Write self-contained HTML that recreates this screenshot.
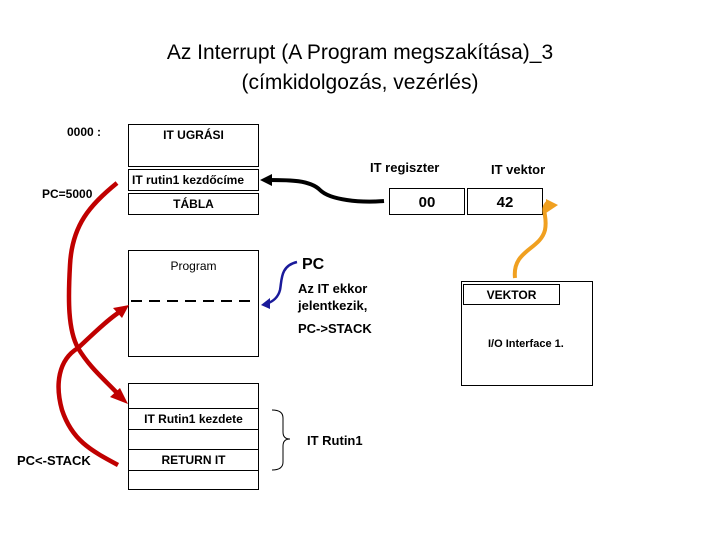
<!DOCTYPE html>
<html><head><meta charset="utf-8"><style>
body{margin:0;width:720px;height:540px;background:#fff;position:relative;font-family:"Liberation Sans",sans-serif;overflow:hidden}
.t{position:absolute;white-space:nowrap;color:#000}
.b{position:absolute;border:1px solid #000;box-sizing:border-box;background:#fff;text-align:center;font-size:12px;font-weight:bold}
</style></head><body>
<div class="t" style="left:0;width:720px;text-align:center;top:38px;font-size:21px;line-height:30px">Az Interrupt (A Program megszakítása)_3<br>(címkidolgozás, vezérlés)</div>
<div class="b" style="left:128px;top:124px;width:131px;height:43px;padding-top:3px">IT UGRÁSI</div>
<div class="b" style="left:128px;top:169px;width:131px;height:22px;text-align:left;padding:3px 0 0 3px">IT rutin1 kezdőcíme</div>
<div class="b" style="left:128px;top:193px;width:131px;height:22px;padding-top:3px">TÁBLA</div>
<div class="b" style="left:128px;top:250px;width:131px;height:107px;padding-top:8px;font-weight:normal;font-size:12px">Program</div>
<div class="b" style="left:128px;top:383px;width:131px;height:107px"></div>
<div class="b" style="left:128px;top:408px;width:131px;height:22px;padding-top:3px">IT Rutin1 kezdete</div>
<div class="b" style="left:128px;top:449px;width:131px;height:22px;padding-top:3px">RETURN IT</div>
<div class="b" style="left:389px;top:188px;width:76px;height:27px;font-size:15px;padding-top:5px">00</div>
<div class="b" style="left:467px;top:188px;width:76px;height:27px;font-size:15px;padding-top:5px">42</div>
<div class="b" style="left:461px;top:281px;width:132px;height:105px"></div>
<div class="b" style="left:463px;top:284px;width:97px;height:21px;padding-top:3px">VEKTOR</div>
<div class="t" style="left:488px;top:338px;font-size:11px;font-weight:bold">I/O Interface 1.</div>
<div class="t" style="left:67px;top:125px;font-size:12px;font-weight:bold">0000 :</div>
<div class="t" style="left:42px;top:187px;font-size:12px;font-weight:bold">PC=5000</div>
<div class="t" style="left:17px;top:453px;font-size:13px;font-weight:bold">PC&lt;-STACK</div>
<div class="t" style="left:370px;top:160px;font-size:13px;font-weight:bold">IT regiszter</div>
<div class="t" style="left:491px;top:162px;font-size:13px;font-weight:bold">IT vektor</div>
<div class="t" style="left:302px;top:256px;font-size:16px;font-weight:bold">PC</div>
<div class="t" style="left:298px;top:280px;font-size:13px;font-weight:bold;line-height:17px">Az IT ekkor<br>jelentkezik,</div>
<div class="t" style="left:298px;top:321px;font-size:13px;font-weight:bold">PC-&gt;STACK</div>
<div class="t" style="left:307px;top:433px;font-size:13px;font-weight:bold">IT Rutin1</div>
<svg width="720" height="540" style="position:absolute;left:0;top:0">
<line x1="131" y1="301" x2="252" y2="301" stroke="#000" stroke-width="2" stroke-dasharray="11,7"/>
<path d="M272 410 Q283 410 283 418 L283 432 Q283 439 290 439 Q283 439 283 446 L283 462 Q283 470 272 470" fill="none" stroke="#000" stroke-width="1"/>
<path d="M384 201 C360 203 330 200 320 190 C310 180 290 180 268 180" fill="none" stroke="#000" stroke-width="4"/>
<polygon points="260,180 272,174 272,186" fill="#000"/>
<path d="M297 262 C280 266 282 280 280 290 C278 298 272 302 266 304" fill="none" stroke="#1a1a9a" stroke-width="2.5"/>
<polygon points="261,305 270,298 270,309" fill="#1a1a9a"/>
<path d="M515 278 C512 250 540 250 545 230 C548 215 540 210 548 202" fill="none" stroke="#f0a020" stroke-width="4"/>
<polygon points="546,199 558,205 546,213" fill="#f0a020"/>
<g fill="none" stroke="#c00000" stroke-width="4.5">
<path d="M117 183 C90 205 72 225 70 265 C68 300 68 330 78 348 C90 368 105 380 118 394"/>
<path d="M118 465 C90 450 72 440 62 410 C55 385 58 360 78 348 C92 335 105 322 118 313"/>
</g>
<polygon points="128,404 110,397 120,388" fill="#c00000"/>
<polygon points="129,305 122,318 113,308" fill="#c00000"/>
</svg>
</body></html>
